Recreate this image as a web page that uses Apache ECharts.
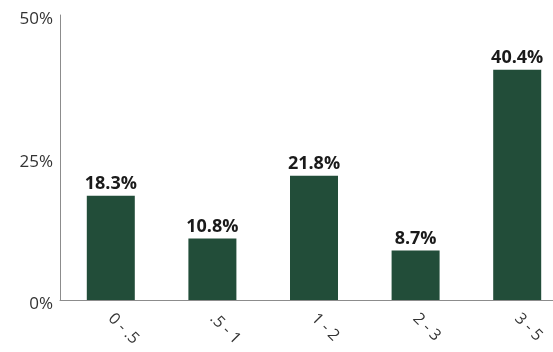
<!DOCTYPE html>
<html><head><meta charset="utf-8">
<script src="https://cdn.jsdelivr.net/npm/echarts@6/dist/echarts.min.js"></script>
<style>html,body{margin:0;padding:0;background:#fff;overflow:hidden}#c{width:568px;height:352px}</style>
</head><body><div id="c"></div>
<script>
const categories = ['0 - .5', '.5 - 1', '1 - 2', '2 - 3', '3 - 5'];
const values = [18.3, 10.8, 21.8, 8.7, 40.4];
const yTicks = [0, 25, 50];

const chart = echarts.init(document.getElementById('c'), null, {renderer: 'canvas'});
chart.setOption({
  animation: false,
  grid: {left: 60, top: 15, bottom: 52, right: 0, containLabel: false},
  xAxis: {
    type: 'category', data: categories,
    axisLine: {lineStyle: {color: '#8c8c8c', width: 1}},
    axisTick: {show: false},
    axisLabel: {rotate: -45, color: '#333', fontFamily: 'Open Sans', fontSize: 16, margin: 16, interval: 0}
  },
  yAxis: {
    type: 'value', min: 0, max: 50, interval: 25,
    axisLine: {show: true, lineStyle: {color: '#8c8c8c', width: 1}},
    axisTick: {show: false},
    splitLine: {show: false},
    axisLabel: {color: '#333', fontFamily: 'Open Sans', fontSize: 17, margin: 7, verticalAlign: 'top', lineHeight: 9,
      formatter: v => yTicks.includes(v) ? v + '%' : ''}
  },
  series: [{
    type: 'bar', data: values, barWidth: 48,
    itemStyle: {color: '#224d39'},
    label: {show: true, position: 'top', distance: 3, color: '#1a1a1a', fontFamily: 'Open Sans', fontWeight: 'bold', fontSize: 18,
      formatter: p => p.value.toFixed(1) + '%'}
  }]
});
</script></body></html>
